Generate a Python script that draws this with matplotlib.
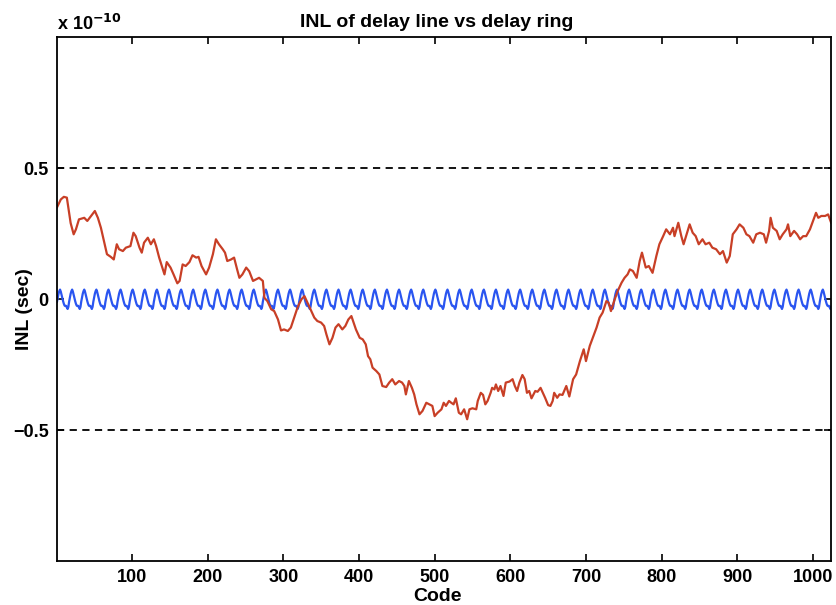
import numpy as np
import matplotlib
matplotlib.use("Agg")
import matplotlib.pyplot as plt

#===# DATA (INL in units of 1e-10 s) #===#

#==# delay line : red trace #==#
line_code = [1, 6, 10, 14, 17, 19, 23, 26, 30, 37, 41, 46, 51, 55, 59, 63, 67, 72, 76, 80,
             83, 88, 92, 98, 102, 105, 110, 113, 116, 121, 125, 129, 132, 136, 141, 143, 146, 151, 155, 160,
             163, 167, 171, 176, 180, 185, 188, 192, 198, 202, 207, 211, 215, 220, 223, 226, 231, 235, 239, 242,
             246, 251, 255, 260, 264, 268, 273, 275, 279, 284, 288, 293, 297, 301, 306, 310, 315, 319, 324, 328,
             332, 337, 341, 345, 350, 354, 357, 361, 365, 369, 373, 378, 382, 386, 390, 393, 396, 401, 405, 409,
             412, 415, 418, 423, 427, 431, 436, 440, 444, 448, 453, 457, 460, 462, 466, 470, 473, 476, 480, 484,
             489, 493, 497, 500, 504, 509, 512, 515, 519, 522, 525, 528, 532, 535, 539, 543, 546, 550, 555, 557,
             561, 564, 567, 570, 574, 576, 579, 581, 584, 587, 591, 594, 599, 603, 606, 609, 612, 616, 619, 622,
             625, 628, 633, 636, 640, 643, 646, 650, 653, 656, 658, 662, 665, 669, 674, 678, 683, 687, 692, 697,
             700, 705, 709, 714, 718, 722, 727, 730, 733, 738, 742, 747, 751, 755, 758, 762, 767, 771, 774, 779,
             783, 788, 793, 797, 802, 806, 811, 815, 817, 822, 826, 829, 833, 837, 841, 845, 849, 854, 858, 863,
             867, 872, 877, 881, 886, 890, 894, 899, 903, 908, 912, 916, 921, 925, 930, 935, 938, 942, 944, 947,
             952, 956, 960, 965, 967, 970, 975, 979, 983, 987, 991, 996, 1000, 1004, 1007, 1011, 1016, 1020, 1024]
line_inl = [0.35, 0.38, 0.39, 0.387, 0.33, 0.29, 0.247, 0.266, 0.304, 0.31, 0.298, 0.317, 0.336, 0.31, 0.272, 0.221, 0.171, 0.161, 0.151, 0.209,
            0.19, 0.183, 0.196, 0.202, 0.253, 0.24, 0.196, 0.177, 0.215, 0.234, 0.209, 0.228, 0.202, 0.158, 0.113, 0.094, 0.141, 0.12, 0.094, 0.06,
            0.069, 0.132, 0.126, 0.141, 0.167, 0.158, 0.161, 0.126, 0.094, 0.12, 0.171, 0.228, 0.209, 0.19, 0.177, 0.145, 0.151, 0.158, 0.113, 0.081,
            0.094, 0.12, 0.106, 0.069, 0.075, 0.081, 0.069, 0.005, -0.008, -0.039, -0.046, -0.078, -0.12, -0.116, -0.122, -0.109, -0.065, -0.031, -0.001, 0.011,
            -0.014, -0.046, -0.071, -0.084, -0.09, -0.103, -0.135, -0.173, -0.148, -0.109, -0.096, -0.116, -0.103, -0.078, -0.065, -0.09, -0.116, -0.148, -0.154, -0.173,
            -0.218, -0.23, -0.262, -0.275, -0.288, -0.332, -0.336, -0.319, -0.306, -0.326, -0.313, -0.319, -0.332, -0.364, -0.313, -0.339, -0.364, -0.402, -0.44, -0.427,
            -0.396, -0.402, -0.408, -0.447, -0.434, -0.421, -0.396, -0.408, -0.389, -0.396, -0.402, -0.379, -0.434, -0.44, -0.421, -0.459, -0.421, -0.417, -0.421, -0.389,
            -0.358, -0.366, -0.402, -0.389, -0.358, -0.339, -0.345, -0.326, -0.351, -0.332, -0.37, -0.319, -0.315, -0.306, -0.332, -0.351, -0.319, -0.29, -0.306, -0.358,
            -0.351, -0.379, -0.351, -0.354, -0.339, -0.358, -0.377, -0.405, -0.408, -0.389, -0.358, -0.377, -0.364, -0.366, -0.332, -0.372, -0.306, -0.288, -0.237, -0.192,
            -0.237, -0.179, -0.148, -0.109, -0.071, -0.052, -0.008, -0.014, -0.046, -0.001, 0.031, 0.062, 0.081, 0.094, 0.113, 0.107, 0.081, 0.145, 0.177, 0.12,
            0.126, 0.1, 0.164, 0.209, 0.24, 0.266, 0.247, 0.272, 0.24, 0.291, 0.24, 0.209, 0.247, 0.285, 0.253, 0.24, 0.209, 0.228, 0.209, 0.215,
            0.196, 0.19, 0.171, 0.183, 0.139, 0.164, 0.247, 0.266, 0.285, 0.272, 0.247, 0.24, 0.215, 0.247, 0.253, 0.247, 0.215, 0.26, 0.31, 0.272,
            0.26, 0.228, 0.247, 0.266, 0.285, 0.24, 0.26, 0.247, 0.228, 0.24, 0.24, 0.266, 0.298, 0.329, 0.31, 0.317, 0.317, 0.323, 0.291]

#==# delay ring : blue trace, one 16-code period repeated over the 1024 codes #==#
ring_period = [-0.010, 0.006, 0.020, 0.030, 0.036, 0.028, 0.016, 0.004, -0.008, -0.018,
               -0.025, -0.027, -0.026, -0.031, -0.038, -0.030]
n_codes = 1024

ring_code = np.arange(1, n_codes + 1)
ring_inl = np.tile(ring_period, n_codes // len(ring_period))

#===# PLOT #===#
plt.rcParams['font.family'] = ['Liberation Sans', 'DejaVu Sans']
plt.rcParams['font.weight'] = 'bold'

fig = plt.figure(figsize=(8.36, 6.05), dpi=100)
ax = fig.add_axes([0.0682, 0.0727, 0.926, 0.8661])

ax.axhline(0.5, color='k', ls=(0, (4, 3)), lw=1.3)
ax.axhline(-0.5, color='k', ls=(0, (4, 3)), lw=1.3)

ax.plot(ring_code, ring_inl, color='#2a55f0', lw=1.6)
ax.plot(line_code, line_inl, color='#c83f26', lw=1.6)

ax.set_xlim(1, 1024)
ax.set_ylim(-1, 1)
ax.set_xticks(np.arange(100, 1001, 100))
ax.set_yticks([-0.5, 0, 0.5])
ax.set_yticklabels(['\u22120.5', '0', '0.5'])

ax.tick_params(direction='in', top=True, right=True, length=5, width=1.2, labelsize=13, pad=6)
for s in ax.spines.values():
    s.set_linewidth(1.3)

ax.set_title('INL of delay line vs delay ring', fontsize=14, fontweight='bold', x=0.491, y=1.019, pad=0)
ax.set_xlabel('Code', fontsize=14, fontweight='bold')
ax.set_ylabel('INL (sec)', fontsize=14, fontweight='bold')
ax.xaxis.set_label_coords(0.491, -0.052)
ax.yaxis.set_label_coords(-0.031, 0.481)
ax.text(0, 1.005, r'x 10$^{\mathbf{-10}}$', transform=ax.transAxes, ha='left', va='bottom',
        fontsize=13, fontweight='bold')

fig.savefig('out.png', dpi=100)
